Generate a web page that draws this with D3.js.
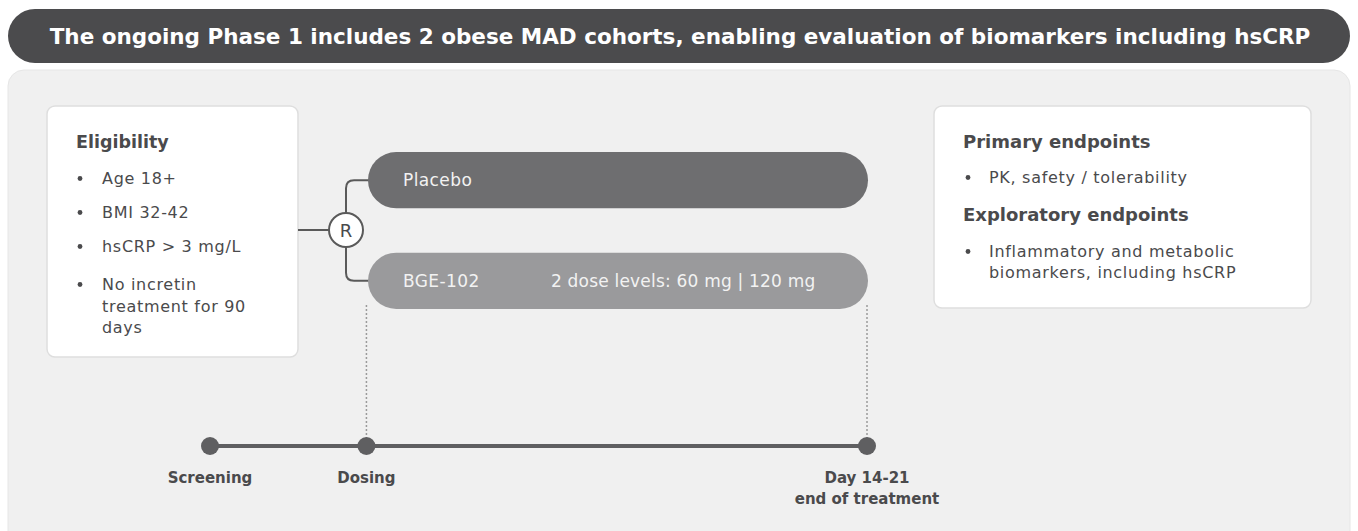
<!DOCTYPE html>
<html>
<head>
<meta charset="utf-8">
<script src="https://cdn.jsdelivr.net/npm/d3@7"></script>
<style>
  html, body { margin: 0; padding: 0; background: #fff; }
  svg { display: block; font-family: "DejaVu Sans", "Open Sans", sans-serif; }
</style>
</head>
<body>
<svg id="chart"></svg>
<script>
// Content
const title = "The ongoing Phase 1 includes 2 obese MAD cohorts, enabling evaluation of biomarkers including hsCRP";
const eligibilityHeader = "Eligibility";
const eligibilityItems = [["Age 18+"], ["BMI 32-42"], ["hsCRP > 3 mg/L"], ["No incretin", "treatment for 90", "days"]];
const arms = ["Placebo", "BGE-102"];
const armNotes = ["", "2 dose levels: 60 mg | 120 mg"];
const endpointHeaders = ["Primary endpoints", "Exploratory endpoints"];
const endpointItems = [["PK, safety / tolerability"], ["Inflammatory and metabolic", "biomarkers, including hsCRP"]];
const milestones = ["Screening", "Dosing", "Day 14-21"];
const milestoneSub = ["", "", "end of treatment"];
const milestoneStep = [0, 1, 4.2]; // relative spacing along the timeline

const W = 1358, H = 531;
const svg = d3.select("#chart").attr("width", W).attr("height", H);

const dark = "#4b4b4d", textCol = "#4a4a4c";

// Title bar
svg.append("rect").attr("x", 8).attr("y", 9).attr("width", 1342).attr("height", 54)
  .attr("rx", 27).attr("fill", dark);
svg.append("text").attr("x", 680).attr("y", 44).attr("text-anchor", "middle")
  .attr("fill", "#fff").style("font-size", "21.5px").style("font-weight", 700)
  .text(title);

// Panel
svg.append("rect").attr("x", 8).attr("y", 70).attr("width", 1342).attr("height", 480)
  .attr("rx", 16).attr("fill", "#f0f0f0").attr("stroke", "#e6e6e6");

// Box helper
function box(x, y, w, h) {
  svg.append("rect").attr("x", x).attr("y", y).attr("width", w).attr("height", h)
    .attr("rx", 8).attr("fill", "#fff").attr("stroke", "#dedede").attr("stroke-width", 1.5);
}
const bodyText = sel => sel.style("font-size", "16px").style("letter-spacing", "0.7px");

// Eligibility box
box(47, 106, 251, 251);
const el = svg.append("g").attr("fill", textCol);
el.append("text").attr("x", 76).attr("y", 148).style("font-size", "17.5px").style("font-weight", 700)
  .text(eligibilityHeader);
const eligY = [184, 218, 252, 290];
eligibilityItems.forEach((lines, i) => {
  el.append("circle").attr("cx", 80).attr("cy", eligY[i] - 5.5).attr("r", 2.4);
  lines.forEach((ln, j) => {
    el.append("text").attr("x", 102).attr("y", eligY[i] + j * 21.5).call(bodyText).text(ln);
  });
});

// Arms
const yArm = d3.scaleBand().domain(arms).range([152, 309]).paddingInner(0.44);
const armFill = d3.scaleOrdinal().domain(arms).range(["#6e6e70", "#9a9a9c"]);
const xL = 368, xR = 868;

// Randomisation bracket
const rx = 346, ry = 230, rr = 17;
const br = svg.append("g").attr("fill", "none").attr("stroke", "#5a5a5a").attr("stroke-width", 2);
br.append("line").attr("x1", 298).attr("x2", rx - rr).attr("y1", ry).attr("y2", ry);
arms.forEach(a => {
  const yc = yArm(a) + yArm.bandwidth() / 2;
  const dir = yc < ry ? -1 : 1;
  br.append("path").attr("d",
    `M${rx},${ry + dir * rr} L${rx},${yc - dir * 8} Q${rx},${yc} ${rx + 8},${yc} L${xL + 10},${yc}`);
});
svg.append("circle").attr("cx", rx).attr("cy", ry).attr("r", rr)
  .attr("fill", "#fff").attr("stroke", "#5a5a5a").attr("stroke-width", 2);
svg.append("text").attr("x", rx).attr("y", ry + 6.5).attr("text-anchor", "middle")
  .attr("fill", textCol).style("font-size", "18px").text("R");

arms.forEach((a, i) => {
  const y = yArm(a), h = yArm.bandwidth();
  svg.append("rect").attr("x", xL).attr("y", y).attr("width", xR - xL).attr("height", h)
    .attr("rx", h / 2).attr("fill", armFill(a));
  svg.append("text").attr("x", 403).attr("y", y + h / 2 + 6).attr("fill", "#f2f2f2")
    .style("font-size", "17px").style("letter-spacing", "0.4px").text(a);
  if (armNotes[i]) {
    svg.append("text").attr("x", 551).attr("y", y + h / 2 + 6).attr("fill", "#f2f2f2")
      .style("font-size", "17px").style("letter-spacing", "0.2px").text(armNotes[i]);
  }
});

// Timeline
const xT = d3.scaleLinear().domain([0, d3.max(milestoneStep)]).range([210, 867]);
const yT = 446;
// dotted guides from the active arm
[1, 2].forEach(i => {
  svg.append("line").attr("x1", xT(milestoneStep[i])).attr("x2", xT(milestoneStep[i]))
    .attr("y1", yArm(arms[1]) + yArm.bandwidth() - 4).attr("y2", yT - 6)
    .attr("stroke", "#9a9a9a").attr("stroke-width", 1.5).attr("stroke-dasharray", "2,2");
});
svg.append("line").attr("x1", xT(0)).attr("x2", xT(d3.max(milestoneStep))).attr("y1", yT).attr("y2", yT)
  .attr("stroke", "#5f5f61").attr("stroke-width", 4);
milestones.forEach((m, i) => {
  const x = xT(milestoneStep[i]);
  svg.append("circle").attr("cx", x).attr("cy", yT).attr("r", 9).attr("fill", "#5f5f61");
  svg.append("text").attr("x", x).attr("y", 483).attr("text-anchor", "middle").attr("fill", textCol)
    .style("font-size", "15px").style("font-weight", 700).text(m);
  if (milestoneSub[i]) {
    svg.append("text").attr("x", x).attr("y", 504).attr("text-anchor", "middle").attr("fill", textCol)
      .style("font-size", "15px").style("font-weight", 700).text(milestoneSub[i]);
  }
});

// Endpoints box
box(934, 106, 377, 202);
const ep = svg.append("g").attr("fill", textCol);
const hdrY = [148, 221], itemY = [183, 257];
endpointHeaders.forEach((hd, i) => {
  ep.append("text").attr("x", 963).attr("y", hdrY[i]).style("font-size", "18px").style("font-weight", 700).text(hd);
  endpointItems[i].forEach((ln, j) => {
    if (j === 0) ep.append("circle").attr("cx", 968).attr("cy", itemY[i] - 5.5).attr("r", 2.4);
    ep.append("text").attr("x", 989).attr("y", itemY[i] + j * 20.5).call(bodyText).text(ln);
  });
});
</script>
</body>
</html>
